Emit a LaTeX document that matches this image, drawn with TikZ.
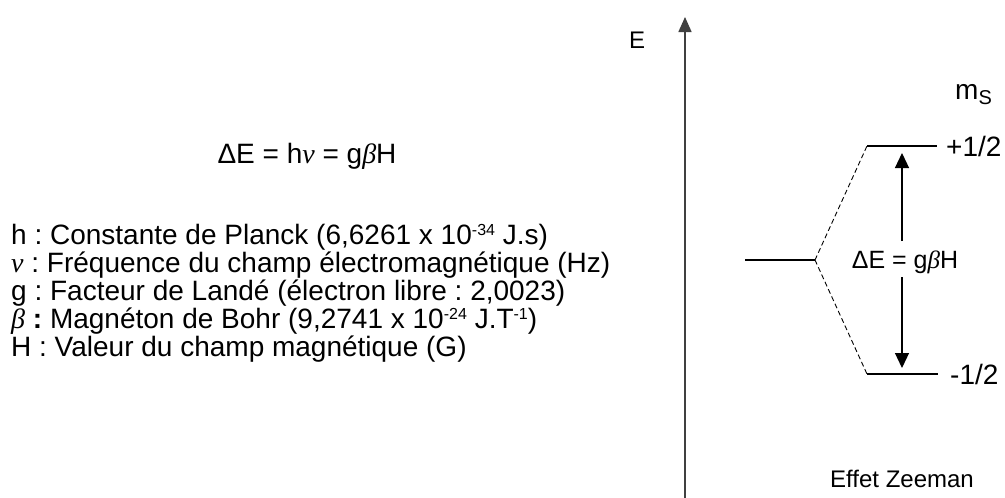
\documentclass[tikz,border=0pt]{standalone}
\usepackage{fontspec}
\setmainfont{Liberation Sans}
\newfontfamily\grkfont{Liberation Serif}
\usetikzlibrary{arrows.meta}
\frenchspacing
\newcommand{\gnu}{{\grkfont\itshape ν}}
\newcommand{\gbeta}{{\grkfont\itshape β}}
\newcommand{\fsz}[1]{\fontsize{#1}{#1}\selectfont\frenchspacing}
\newcommand{\supx}[1]{\raisebox{8.5pt}{\fsz{16}#1}}
\begin{document}
\begin{tikzpicture}[x=1pt,y=-1pt,
  txt/.style={inner sep=0pt,anchor=base west,font=\fsz{28}},
  lvl/.style={line width=1.1pt},
  split/.style={line width=0.9pt,dash pattern=on 5pt off 3pt},
  tip/.style={-{Triangle[length=15pt,width=14pt]},line width=1.2pt}]
\useasboundingbox (0,0) rectangle (1005,498);
% left text
\node[inner sep=0pt,anchor=base,font=\fsz{28}] (form) at (307,163) {ΔE = h\gnu{} = g\gbeta{}H};
\node[txt] (l1) at (11,244) {h : Constante de Planck (6,6261 x 10\supx{-34} J.s)};
\node[txt] (l2) at (11,272) {\gnu{} : Fréquence du champ électromagnétique (Hz)};
\node[txt] (l3) at (11,300) {g : Facteur de Landé (électron libre : 2,0023)};
\node[txt] (l4) at (11,328) {\gbeta{} \textbf{:} Magnéton de Bohr (9,2741 x 10\supx{-24} J.T\supx{-1})};
\node[txt] (l5) at (11,356) {H : Valeur du champ magnétique (G)};
% axis
\coordinate (ax0) at (685,498);
\coordinate (ax1) at (685,17);
\draw[-{Triangle[length=15pt,width=13pt]},line width=1.6pt,draw=black!75] (ax0) -- (ax1);
\node[inner sep=0pt,anchor=base,font=\fsz{24}] (E) at (637,48) {E};
\node[inner sep=0pt,anchor=base west,font=\fsz{28}] (ms) at (955,99) {m\textsubscript{\fsz{20}S}};
% levels
\coordinate (z0) at (745,260);
\coordinate (z1) at (815,260);
\coordinate (u0) at (867,146);
\coordinate (u1) at (937,146);
\coordinate (d0) at (867,374);
\coordinate (d1) at (938,374);
\draw[lvl] (z0) -- (z1);
\draw[lvl] (u0) -- (u1);
\draw[lvl] (d0) -- (d1);
\draw[split] (z1) -- (u0);
\draw[split] (z1) -- (d0);
\node[inner sep=0pt,anchor=base west,font=\fsz{28}] (plus) at (946,156) {+1/2};
\node[inner sep=0pt,anchor=base west,font=\fsz{28}] (minus) at (950,384) {-1/2};
% transition
\node[inner sep=0pt,anchor=base,font=\fsz{25}] (dE) at (905,268) {ΔE = g\gbeta{}H};
\coordinate (a1) at (902,241);
\coordinate (a2) at (902,153);
\coordinate (b1) at (902,277);
\coordinate (b2) at (902,368);
\draw[tip] (a1) -- (a2);
\draw[tip] (b1) -- (b2);
\node[inner sep=0pt,anchor=base,font=\fsz{24}] (zee) at (902,487) {Effet Zeeman};
\end{tikzpicture}
\end{document}
